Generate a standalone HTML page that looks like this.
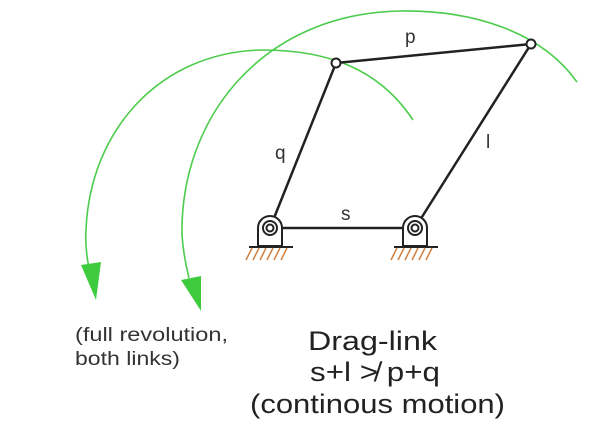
<!DOCTYPE html>
<html><head><meta charset="utf-8"><style>
html,body{margin:0;padding:0;background:#fff;width:600px;height:427px;overflow:hidden}
</style></head><body>
<svg width="600" height="427" viewBox="0 0 600 427" xmlns="http://www.w3.org/2000/svg" font-family="Liberation Sans, sans-serif">
<g fill="none" stroke="#4ccc4c" stroke-width="1.6">
<path d="M413,120 C380,70 330,50 262,50 C160,52 90,130 86,230 C85,245 87,258 89,268"/>
<path d="M577,82 C540,30 470,10 400,11 C260,14 180,120 182,235 C183,250 185,262 189,278"/>
</g>
<polygon points="81,265 101,262 96,300" fill="#3ecb3e"/>
<polygon points="181,280 201,276 201,311" fill="#3ecb3e"/>
<g stroke="#222" stroke-width="2.5" fill="none">
<line x1="270" y1="228" x2="336" y2="63"/>
<line x1="415" y1="228" x2="531" y2="44"/>
<line x1="336" y1="63" x2="531" y2="44"/>
<line x1="270" y1="228" x2="415" y2="228"/>
</g>
<g stroke="#222" stroke-width="2" fill="#fff">
<path d="M258,246 V228 A12,12 0 0 1 282,228 V246 Z"/>
<path d="M403,246 V228 A12,12 0 0 1 427,228 V246 Z"/>
<circle cx="270" cy="228" r="7"/>
<circle cx="415" cy="228" r="7"/>
<circle cx="270" cy="228" r="3.5"/>
<circle cx="415" cy="228" r="3.5"/>
<circle cx="336" cy="63" r="4.5"/>
<circle cx="531" cy="44" r="4.5"/>
</g>
<g stroke="#222" stroke-width="2">
<line x1="249" y1="247" x2="293" y2="247"/>
<line x1="394" y1="247" x2="438" y2="247"/>
</g>
<g stroke="#d08040" stroke-width="1.5">
<path d="M252,248 l-6,12 M259,248 l-6,12 M266,248 l-6,12 M273,248 l-6,12 M280,248 l-6,12 M287,248 l-6,12"/>
<path d="M397,248 l-6,12 M404,248 l-6,12 M411,248 l-6,12 M418,248 l-6,12 M425,248 l-6,12 M432,248 l-6,12"/>
</g>
<g fill="#333" font-size="19">
<text x="405" y="43">p</text>
<text x="275" y="159">q</text>
<text x="486" y="148">l</text>
<text x="341" y="220">s</text>
</g>
<g fill="#333" font-size="19">
<text x="75" y="341" textLength="153" lengthAdjust="spacingAndGlyphs">(full revolution,</text>
<text x="75" y="365" textLength="105" lengthAdjust="spacingAndGlyphs">both links)</text>
</g>
<g fill="#222" font-size="27">
<text x="308" y="350" textLength="129" lengthAdjust="spacingAndGlyphs">Drag-link</text>
<text x="310" y="381" textLength="130" lengthAdjust="spacingAndGlyphs">s+l ≯ p+q</text>
<text x="250" y="413" textLength="255" lengthAdjust="spacingAndGlyphs">(continous motion)</text>
</g>
</svg>
</body></html>
